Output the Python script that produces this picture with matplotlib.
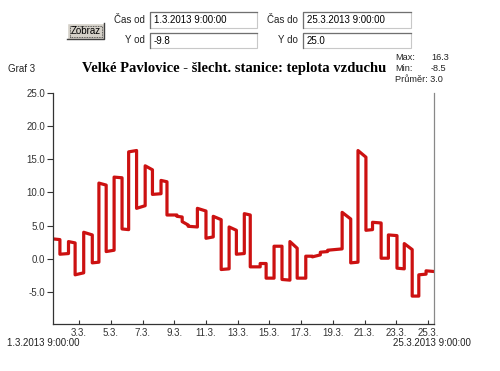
import datetime as dt
import matplotlib
matplotlib.use("Agg")
import matplotlib.pyplot as plt
import matplotlib.dates as mdates
from matplotlib.patches import Rectangle
from matplotlib.lines import Line2D

# ---- data (hours after 1.3.2013 9:00, segment values) ----
seg_bounds_h = [0, 10, 23, 33, 46, 59, 69, 80, 92, 104, 114, 126, 139, 150, 163, 172,
                187, 195, 204, 218, 231, 242, 254, 266, 277, 289, 298, 313, 322, 334,
                346, 358, 369, 382, 392, 404, 415, 437, 450, 461, 473, 483, 496, 507,
                520, 531, 543, 553, 564, 576]
seg_start_val = [3.0, 0.7, 2.6, -2.4, 4.0, -0.6, 11.4, 1.1, 12.3, 4.5, 16.1, 7.6, 14.0,
                 9.7, 11.8, 6.6, 6.4, 5.6, 4.9, 7.6, 3.1, 6.4, -1.6, 4.8, 0.7, 6.8, -1.2,
                 -0.7, -2.9, 1.9, -3.1, 2.6, -2.9, 0.4, 0.3, 1.0, 1.3, 7.0, -0.6, 16.3,
                 4.3, 5.5, 0.1, 3.6, -1.4, 2.3, -5.6, -2.4, -1.8]
seg_end_val = [2.9, 0.8, 2.4, -2.1, 3.6, -0.5, 11.1, 1.3, 12.2, 4.4, 16.3, 8.0, 13.4,
               9.8, 11.6, 6.6, 6.3, 5.1, 4.8, 7.2, 3.3, 5.9, -1.5, 4.3, 0.8, 6.6, -1.2,
               -0.7, -2.9, 1.9, -3.2, 1.6, -2.9, 0.4, 0.6, 1.1, 1.5, 6.0, -0.5, 15.3,
               4.4, 5.4, 0.1, 3.5, -1.5, 1.4, -5.6, -2.3, -1.9]
t_start = dt.datetime(2013, 3, 1, 9, 0)
t_end = dt.datetime(2013, 3, 25, 9, 0)
y_min, y_max = -9.8, 25.0
y_ticks = [-5.0, 0.0, 5.0, 10.0, 15.0, 20.0, 25.0]
x_tick_days = [3, 5, 7, 9, 11, 13, 15, 17, 19, 21, 23, 25]
title = "Velké Pavlovice - šlecht. stanice: teplota vzduchu"
stats = [("Max:", "16.3"), ("Min:", "-8.5")]
avg_text = "Průměr: 3.0"

W, H = 500, 371
fig = plt.figure(figsize=(W / 100, H / 100), dpi=100)
fig.patch.set_facecolor("white")
SANS = ["Liberation Sans", "DejaVu Sans"]


def fx(x):
    return x / W


def fy(y):
    return 1 - y / H


# ---- axes ----
ax = fig.add_axes([fx(53.3), fy(324), fx(434) - fx(53.3), fy(92.7) - fy(324)])
xs, ys = [], []
for i in range(len(seg_start_val)):
    xs += [t_start + dt.timedelta(hours=seg_bounds_h[i]),
           t_start + dt.timedelta(hours=seg_bounds_h[i + 1])]
    ys += [seg_start_val[i], seg_end_val[i]]
ax.plot(xs, ys, color="#cc1111", lw=2.3, solid_joinstyle="round")
ax.set_xlim(t_start, t_end)
ax.set_ylim(y_min, y_max)
ax.set_yticks(y_ticks)
ax.set_yticklabels([f"{v:.1f}" for v in y_ticks])
ax.set_xticks([dt.datetime(2013, 3, d) for d in x_tick_days])
ax.set_xticklabels([f"{d}.3." for d in x_tick_days])
ax.tick_params(axis="y", direction="out", length=4, width=0.8, colors="#333333",
               labelsize=7, pad=2)
ax.tick_params(axis="x", direction="in", length=3, width=0.8, colors="#333333",
               labelsize=7, pad=3)
for lab in ax.get_xticklabels() + ax.get_yticklabels():
    lab.set_family(SANS)
ax.spines["top"].set_visible(False)
ax.spines["left"].set_color("#333333")
ax.spines["bottom"].set_color("#333333")
ax.spines["right"].set_color("#888888")
for s in ax.spines.values():
    s.set_linewidth(0.9)

# ---- texts ----
fig.text(fx(7), fy(342.5), "1.3.2013 9:00:00", fontsize=7, family=SANS, color="#222222",
         va="center", ha="left")
fig.text(fx(471), fy(342.5), "25.3.2013 9:00:00", fontsize=7, family=SANS, color="#222222",
         va="center", ha="right")
fig.text(fx(8), fy(69), "Graf 3", fontsize=7, family=SANS, color="#222222",
         va="center", ha="left")
fig.text(fx(234), fy(68.5), title, fontsize=10.5, fontweight="bold",
         family=["Liberation Serif", "DejaVu Serif"], va="center", ha="center", color="black")
for k, (lab, val) in enumerate(stats):
    yy = 57.5 + k * 11
    fig.text(fx(395), fy(yy), lab, fontsize=6.6, family=SANS, color="#222222", va="center")
    fig.text(fx(431), fy(yy), val, fontsize=6.6, family=SANS, color="#222222", va="center")
fig.text(fx(395), fy(79.5), avg_text, fontsize=6.6, family=SANS, color="#222222", va="center")


# ---- form controls ----
def box(x0, y0, x1, y1, text):
    fig.add_artist(Rectangle((fx(x0), fy(y1)), fx(x1) - fx(x0), fy(y0) - fy(y1),
                             transform=fig.transFigure, facecolor="white",
                             edgecolor="#c8c8c8", lw=0.8))
    fig.add_artist(Line2D([fx(x0), fx(x0), fx(x1)], [fy(y1), fy(y0), fy(y0)],
                          transform=fig.transFigure, color="#707070", lw=0.9))
    fig.text(fx(x0 + 4), fy((y0 + y1) / 2), text, fontsize=7, family=SANS,
             color="black", va="center", ha="left")


def label(xr, y, text):
    fig.text(fx(xr), fy(y), text, fontsize=7, family=SANS, color="#222222",
             va="center", ha="right")


label(145, 20, "Čas od")
box(150, 12, 257, 28, "1.3.2013 9:00:00")
label(298, 20, "Čas do")
box(303, 12, 411, 28, "25.3.2013 9:00:00")
label(145, 40, "Y od")
box(150, 33, 257, 48, "-9.8")
label(298, 40, "Y do")
box(303, 33, 411, 48, "25.0")

# button
bx0, by0, bx1, by1 = 67, 23, 104, 39
fig.add_artist(Rectangle((fx(bx0), fy(by1)), fx(bx1) - fx(bx0), fy(by0) - fy(by1),
                         transform=fig.transFigure, facecolor="#d4d0c8", edgecolor="none"))
fig.add_artist(Line2D([fx(bx0), fx(bx0), fx(bx1)], [fy(by1), fy(by0), fy(by0)],
                      transform=fig.transFigure, color="white", lw=1))
fig.add_artist(Line2D([fx(bx0), fx(bx1), fx(bx1)], [fy(by1), fy(by1), fy(by0)],
                      transform=fig.transFigure, color="#404040", lw=1))
fig.add_artist(Rectangle((fx(bx0 + 2.5), fy(by1 - 2.5)), fx(bx1 - bx0 - 5), fy(0) - fy(by1 - by0 - 5),
                         transform=fig.transFigure, facecolor="none", edgecolor="#333333",
                         lw=0.6, linestyle=(0, (1, 1))))
fig.text(fx((bx0 + bx1) / 2), fy((by0 + by1) / 2), "Zobraz", fontsize=7, family=SANS,
         color="black", va="center", ha="center")

fig.savefig("out.png", dpi=100, facecolor="white")
